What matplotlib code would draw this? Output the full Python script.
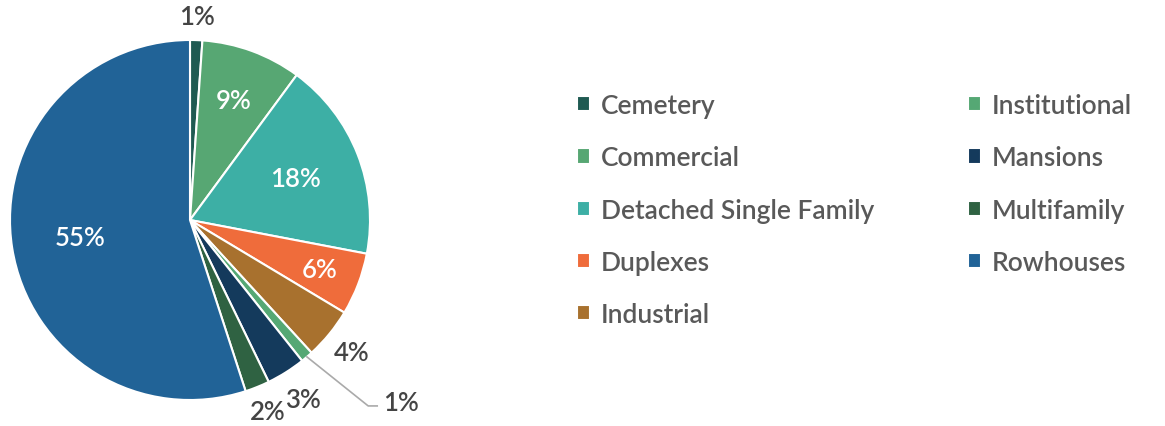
import matplotlib.pyplot as plt
import numpy as np

plt.rcParams['font.family'] = ['Lato', 'DejaVu Sans']

# Dữ liệu
categories = ['Cemetery', 'Commercial', 'Detached Single Family', 'Duplexes', 'Industrial',
              'Institutional', 'Mansions', 'Multifamily', 'Rowhouses']
shares = [1.1, 9.0, 17.9, 5.6, 4.6, 1.1, 3.5, 2.2, 55.0]
colors = ['#1f5a52', '#57a773', '#3dafa5', '#ef6c3b', '#a8712e',
          '#55a874', '#143a5c', '#2f6242', '#216397']
pct_labels = ['1%', '9%', '18%', '6%', '4%', '1%', '3%', '2%', '55%']
# nhãn bên trong (trắng) hay bên ngoài (xám)
inside = [False, True, True, True, False, False, False, False, True]
label_r = [1.13, 0.71, 0.63, 0.77, 1.16, None, 1.18, 1.15, 0.62]

fig = plt.figure(figsize=(11.65, 4.27), dpi=100)
ax = fig.add_axes([10 / 1165, 26 / 427, 360 / 1165, 360 / 427])

wedges, _ = ax.pie(shares, colors=colors, startangle=90, counterclock=False, radius=1,
                   wedgeprops=dict(edgecolor='white', linewidth=1.5))
ax.set_xlim(-1, 1)
ax.set_ylim(-1, 1)
ax.set_aspect('equal')
ax.axis('off')

for w, lab, ins, r in zip(wedges, pct_labels, inside, label_r):
    mid = np.deg2rad((w.theta1 + w.theta2) / 2)
    if r is None:
        # nhãn có đường dẫn (Institutional)
        x0, y0 = np.cos(mid), np.sin(mid)
        knee = (0.99, -1.033)
        ax.plot([x0, knee[0], knee[0] + 0.05], [y0, knee[1], knee[1]], color='#aaaaaa',
                lw=1.2, clip_on=False)
        ax.text(knee[0] + 0.08, knee[1] + 0.02, lab, ha='left', va='center',
                fontsize=18.5, fontweight='semibold', color='#444444', clip_on=False)
        continue
    ax.text(r * np.cos(mid), r * np.sin(mid), lab, ha='center', va='center', fontsize=18.5,
            fontweight='semibold', color='white' if ins else '#444444', clip_on=False)

leg = fig.legend(wedges, categories, ncol=2, loc='upper left',
                 bbox_to_anchor=(564 / 1165, 1 - 81 / 427), frameon=False,
                 prop=dict(size=19, weight='semibold'),
                 handlelength=0.5, handleheight=0.5, handletextpad=0.4,
                 labelspacing=1.03, columnspacing=3.55, borderpad=0)
for t in leg.get_texts():
    t.set_color('#595959')

fig.savefig('out.png', dpi=100)
